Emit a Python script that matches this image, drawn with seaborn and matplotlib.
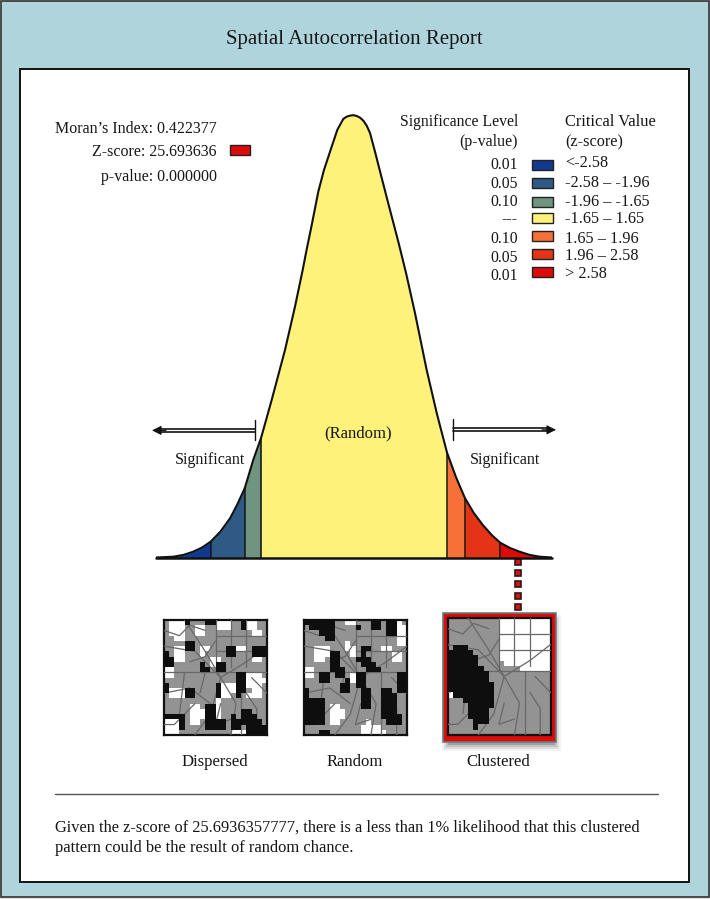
import numpy as np
import matplotlib
matplotlib.use('Agg')
import matplotlib.pyplot as plt
from matplotlib.colors import ListedColormap
from matplotlib.patches import Rectangle
import seaborn as sns

# -----------------------------
# Values
# -----------------------------
curve_z = [-3.54, -3.23, -3.05, -2.875, -2.714, -2.56, -2.39, -2.21, -2.08, -1.95, -1.80, -1.66, -1.47, -1.232,
           -1.054, -0.916, -0.845, -0.755, -0.6375, -0.536, -0.398, -0.298, -0.25, -0.191, -0.13, -0.071,
           -0.0125, 0.048, 0.107, 0.166, 0.227, 0.286, 0.375, 0.495, 0.643, 0.791, 0.929, 1.089, 1.298, 1.477,
           1.66, 1.82, 1.98, 2.14, 2.30, 2.46, 2.61, 2.786, 2.96, 3.14, 3.32, 3.54]
curve_density = [0.0, 0.0007, 0.0023, 0.0052, 0.009, 0.0143, 0.0231, 0.0357, 0.0484, 0.0628, 0.0881, 0.108, 0.1424, 0.1876,
                 0.2267, 0.26, 0.2785, 0.3005, 0.3307, 0.3503, 0.3714, 0.3865, 0.391, 0.3964, 0.3985, 0.3994,
                 0.3998, 0.3991, 0.3976, 0.3949, 0.3903, 0.3837, 0.3668, 0.343, 0.3141, 0.2855, 0.2572, 0.221, 0.1695, 0.1306,
                 0.095, 0.0728, 0.0538, 0.0402, 0.0294, 0.0203, 0.0134, 0.0086, 0.0052, 0.0023, 0.0007, 0.0]
band_edges = [-3.54, -2.56, -1.95, -1.66, 1.66, 1.98, 2.61, 3.54]
band_colors = ['#10398F', '#2F5A85', '#6F9580', '#FFF27A', '#F77038', '#E53318', '#DE0A0A']

p_labels = ['0.01', '0.05', '0.10', '---', '0.10', '0.05', '0.01']
z_labels = ['<-2.58', '-2.58 \u2013 -1.96', '-1.96 \u2013 -1.65', '-1.65 \u2013 1.65',
            '1.65 \u2013 1.96', '1.96 \u2013 2.58', '> 2.58']
stats_labels = ['Moran\u2019s Index: 0.422377', 'Z-score: 25.693636', 'p-value: 0.000000']
map_names = ['Dispersed', 'Random', 'Clustered']

# k = black, g = grey, w = white
dispersed = ['gwwwkgggkkwwwggkwwgg', 'gwwwggwwggwwwggkwwgg', 'gwwwggwwgggggggggwwg', 'ggwwgggggggggggggggg',
             'ggggkkgggggggggggggg', 'ggwwkkgwwgggkkwwgkkk', 'kgwwgggwggggkkgggkkk', 'kkwwgggggwwggggggwwg',
             'kkgggggkgwkkgggggggg', 'wwgggggkkgkkgggggggg', 'wwggggggggggggkkwwwg', 'ggggggggggggggkkwwww',
             'kgggggggggkwwwkkwwwg', 'kwwwkkggggkwwwkkgwwg', 'gwwwkkggggkwwgkgwwwg', 'ggggggggggwggggggggg',
             'gggggwwgkkwggggggggg', 'gggggwwwkkwggggkkggg', 'kkkkgwwwkkwggkgkkkgg', 'wwwkgwwgkkkkgkkkkkkg',
             'wwwkggggkkkkgkkgkkkk', 'wwwggggggggggwwwkkkk']
random_map = ['kkkkkkggwwgggkkgkkwg', 'gkkkkkggggkggkkgkkww', 'gggkkkggggggggggkkww', 'ggggkkggggggggggggww',
              'ggggggggwgggggggggww', 'ggwwwgggwwgkkggwwggg', 'ggwwwkkggwgkgggggwwg', 'ggwwgkkgggkkkggggwwg',
              'gggggkkggggkkkgggggg', 'wwgggkkkggggkkkggggg', 'wwgkkgkkgwkkggggggkk', 'gggkkgggkwkkggggggkk',
              'gggggggkkgkkggggggkk', 'kggggggkkggkkggkkgkk', 'kggggggggggkkggkkkgg', 'kkkkgggggggkkggkkkgg',
              'kkkkgwwggggkkggkkkgg', 'kkkkgwwwgggggggkkkgg', 'kkkkgwwwgggggggkkkkg', 'kkkkgwwgggggwgggkkkg',
              'gggggggggggwwwwggggg', 'gggkkggggggwwwwwgggg']
clustered = ['ggggggggggwwwwwwwwww', 'ggggggggggwwwwwwwwww', 'ggggggggggwwwwwwwwww', 'ggggggggggwwwwwwwwww',
             'ggggggggggwwwwwwwwww', 'gkkkggggggwwwwwwwwww', 'kkkkkgggggwwwwwwwwww', 'kkkkkkggggwwwwwwwwww',
             'kkkkkkgggggwwwwwwwww', 'kkkkkkkgggggggwwwwww', 'kkkkkkkkgggggggggggg', 'kkkkkkkkgggggggggggg',
             'kkkkkkkkkggggggggggg', 'kkkkkkkkkggggggggggg', 'wkkkkkkkkggggggggggg', 'gggkkkkkkggggggggggg',
             'ggggkkkkkggggggggggg', 'ggggkkkkgggggggggggg', 'ggggkkkkgggggggggggg', 'gggggkkkgggggggggggg',
             'gggggkgggggggggggggg', 'gggggggggggggggggggg']

# street lines shared by the three maps, in map cells
streets = [[(0, 10), (20, 10)], [(15, 10), (15, 22)], [(10, 0), (10, 10)], [(13, 0), (13, 9)], [(16, 0), (16, 9)],
           [(10, 3), (20, 3)], [(10, 6), (20, 6)], [(4, 0), (6, 3), (8, 6), (11, 11), (9, 18), (6, 22)],
           [(0, 5), (6, 6), (11, 11), (16, 8), (20, 5)], [(0, 14), (5, 13), (9, 16)], [(11, 11), (14, 16), (13, 22)],
           [(4, 10), (3, 18)], [(16, 14), (18, 17), (18, 22)], [(8, 10), (7, 14)], [(0, 2), (3, 3), (5, 1), (8, 2)],
           [(11, 16), (10, 20), (13, 19)], [(5, 8), (8, 7), (10, 4)], [(17, 11), (20, 14)], [(6, 16), (2, 20), (0, 20)]]

# -----------------------------
# Page
# -----------------------------
sns.set_theme(style='white')
plt.rcParams['font.family'] = ['Liberation Serif', 'DejaVu Serif']
INK = '#161616'

fig = plt.figure(figsize=(7.10, 8.99), dpi=100, facecolor='#E4E4E4')
page = fig.add_axes([0, 0, 1, 1], zorder=0)
page.set_xlim(0, 710)
page.set_ylim(899, 0)
page.axis('off')
page.add_patch(Rectangle((0.5, 0.5), 708, 896.5, fc='#AFD4DC', ec='#333333', lw=1.2))
page.add_patch(Rectangle((20, 68.5), 669, 813, fc='white', ec='#111111', lw=1.4))

page.text(354.5, 39.5, 'Spatial Autocorrelation Report', ha='center', va='center', fontsize=15, color=INK)

for label, y in zip(stats_labels, [129, 152, 177]):
    page.text(217, y, label, ha='right', va='center', fontsize=11.5, color=INK)
page.add_patch(Rectangle((229.5, 144.5), 20, 10, fc=band_colors[-1], ec='#222222', lw=1))

page.text(518, 121.5, 'Significance Level', ha='right', va='center', fontsize=11.3, color=INK)
page.text(518, 142, '(p-value)', ha='right', va='center', fontsize=11.5, color=INK)
page.text(565, 121.5, 'Critical Value', ha='left', va='center', fontsize=11.9, color=INK)
page.text(565, 142, '(z-score)', ha='left', va='center', fontsize=11.7, color=INK)

p_rows = [165, 184, 202, 219, 239, 258, 276]
z_rows = [163, 183, 202, 219, 239, 256, 274]
box_rows = [165, 183, 202, 218, 236, 254, 272]
for i in range(7):
    page.text(518, p_rows[i], p_labels[i], ha='right', va='center', fontsize=11.3, color=INK)
    page.text(565, z_rows[i], z_labels[i], ha='left', va='center', fontsize=11.7, color=INK)
    page.add_patch(Rectangle((532, box_rows[i] - 5), 21, 10, fc=band_colors[i], ec='#222222', lw=1))

# -----------------------------
# Bell curve
# -----------------------------
ax = fig.add_axes([156 / 710, 1 - 557.5 / 899, 396 / 710, 453.6 / 899], zorder=1)
ax.patch.set_alpha(0)
ax.set_xlim(-3.536, 3.536)
ax.set_ylim(0, 0.41)
z = np.array(curve_z)
dens = np.array(curve_density)
for i in range(7):
    mask = (z >= band_edges[i]) & (z <= band_edges[i + 1])
    ax.fill_between(z[mask], 0, dens[mask], color=band_colors[i], lw=0)
    if i > 0:
        ax.plot([band_edges[i]] * 2, [0, dens[z == band_edges[i]][0]], color='#111111', lw=1.1)
sns.lineplot(x=curve_z, y=curve_density, color='#111111', lw=1.5, ax=ax, sort=False, errorbar=None)
ax.axhline(0, color='#111111', lw=1.8, clip_on=False)
ax.axis('off')

fig.text(358 / 710, 1 - 433 / 899, '(Random)', ha='center', va='center', fontsize=12, color=INK, zorder=5)
page.text(210, 459.5, 'Significant', ha='center', va='center', fontsize=11.5, color=INK)
page.text(505, 459.5, 'Significant', ha='center', va='center', fontsize=11.5, color=INK)

# double arrows either side of the curve
for y in [429, 431.8]:
    page.plot([160, 255], [y, y], color='#111111', lw=1.2)
    page.plot([453, 548], [y - 0.6, y - 0.6], color='#111111', lw=1.2)
page.plot([255, 255], [420, 440], color='#111111', lw=1)
page.plot([453, 453], [419, 440], color='#111111', lw=1)
page.annotate('', xy=(152, 430.4), xytext=(166, 430.4), arrowprops=dict(arrowstyle='-|>', color='#111111', lw=0.8, mutation_scale=14, shrinkA=0, shrinkB=0))
page.annotate('', xy=(556, 429.8), xytext=(542, 429.8), arrowprops=dict(arrowstyle='-|>', color='#111111', lw=0.8, mutation_scale=14, shrinkA=0, shrinkB=0))

# dotted leader down to the clustered map
page.plot([518] * 5, [561.7, 573, 584.3, 595.7, 607.3], ls='none', marker='s', ms=4.6, mfc='#D81010', mec='#2A1A1A', mew=1.2)

# -----------------------------
# Maps
# -----------------------------
# shadow and red frame of the clustered map
for grow, alpha in [(7, 0.06), (5, 0.10), (3, 0.14), (1, 0.20)]:
    page.add_patch(Rectangle((449 - grow, 622 - grow), 105 + 2 * grow, 122 + 2 * grow, fc='#222222', ec='none', alpha=alpha))
page.add_patch(Rectangle((443, 613), 113, 128.5, fc='#E00A0A', ec='#5F8080', lw=1.2))

map_boxes = [(164, 620, 103, 115), (304, 620, 103, 115), (447.5, 618, 103, 117)]
for rows, (x0, y0, w, h), name in zip([dispersed, random_map, clustered], map_boxes, map_names):
    grid = np.array([['kgw'.index(c) for c in r] for r in rows])
    m = fig.add_axes([x0 / 710, 1 - (y0 + h) / 899, w / 710, h / 899], zorder=2)
    # grey and white first, streets over them, black patches on top
    sns.heatmap(grid, mask=grid == 0, cmap=ListedColormap(['#939393', '#FFFFFF']), vmin=1, vmax=2, cbar=False,
                xticklabels=False, yticklabels=False, ax=m)
    for line in streets:
        xs, ys = zip(*line)
        m.plot(xs, ys, color='#686868', lw=0.9, zorder=3)
    sns.heatmap(grid, mask=grid != 0, cmap=ListedColormap(['#0E0E0E']), cbar=False,
                xticklabels=False, yticklabels=False, ax=m)
    m.collections[-1].set_zorder(4)
    for s in m.spines.values():
        s.set_visible(True)
        s.set_color('#111111')
        s.set_linewidth(1.6)
    page.text(x0 + w / 2 - 1, 762.5, name, ha='center', va='center', fontsize=12, color=INK)

# -----------------------------
# Footer
# -----------------------------
page.plot([55, 658], [794, 794], color='#555555', lw=1)
page.text(55, 827.5, 'Given the z-score of 25.6936357777, there is a less than 1% likelihood that this clustered',
          ha='left', va='center', fontsize=11.75, color=INK)
page.text(55, 848, 'pattern could be the result of random chance.', ha='left', va='center', fontsize=11.9, color=INK)

fig.savefig('out.png', dpi=100, facecolor=fig.get_facecolor())
